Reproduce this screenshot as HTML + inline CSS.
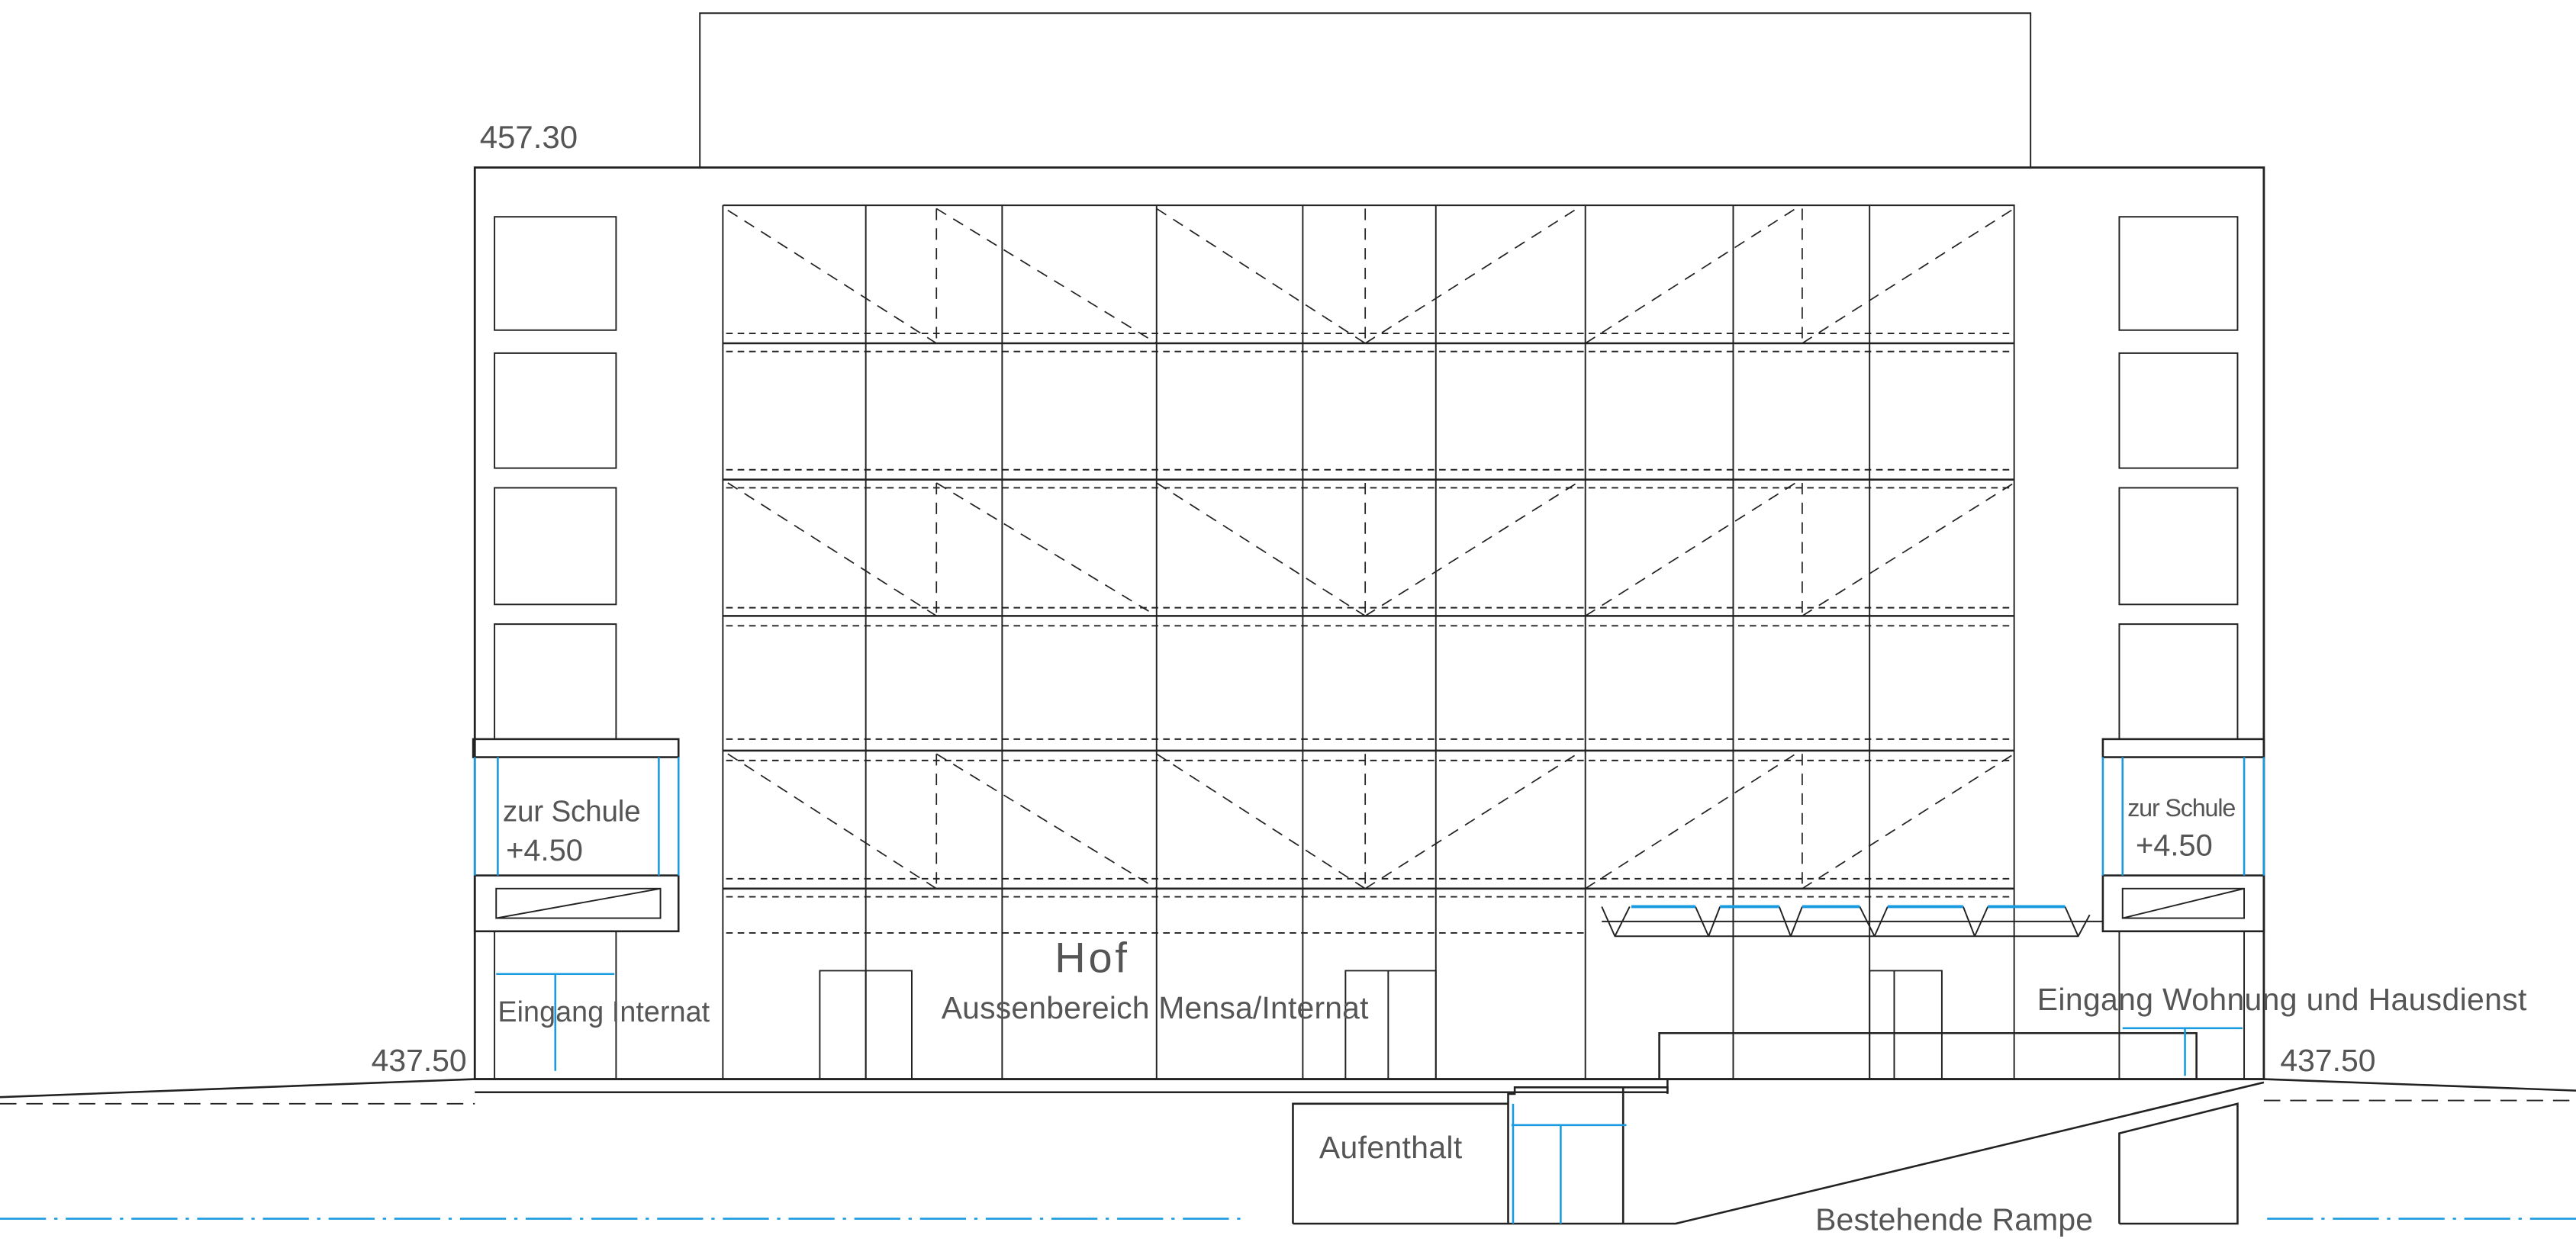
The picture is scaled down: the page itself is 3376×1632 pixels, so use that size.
<!DOCTYPE html>
<html><head><meta charset="utf-8"><style>
html,body{margin:0;padding:0;background:#fff;}
svg{display:block;}
text{font-family:"Liberation Sans",sans-serif;fill:#555;}
</style></head><body>
<svg width="3376" height="1632" viewBox="0 0 1568 758" xmlns="http://www.w3.org/2000/svg">
<rect width="1568" height="758" fill="#fff"/>
<g stroke="#222" fill="none" stroke-width="0.9">
<path d="M426 102 V8 H1236 V102"/>
<rect x="289" y="102" width="1089" height="555" stroke-width="1.3"/>
<rect x="301" y="132" width="74" height="69"/>
<rect x="301" y="215" width="74" height="70"/>
<rect x="301" y="297" width="74" height="71"/>
<path d="M301 450 V380 H375 V450"/>
<rect x="1290" y="132" width="72" height="69"/>
<rect x="1290" y="215" width="72" height="70"/>
<rect x="1290" y="297" width="72" height="71"/>
<path d="M1290 450 V380 H1362 V450"/>
<rect x="288" y="450" width="125" height="11" stroke-width="1.2"/>
<rect x="289" y="533" width="124" height="34" stroke-width="1.2"/>
<rect x="302" y="541" width="100" height="18"/>
<path d="M302 559 L402 541"/>
<path d="M301 567 V657 M375 567 V657"/>
<rect x="1280" y="450" width="98" height="11" stroke-width="1.2"/>
<rect x="1280" y="533" width="98" height="34" stroke-width="1.2"/>
<rect x="1292" y="541" width="74" height="18"/>
<path d="M1292 559 L1366 541"/>
<path d="M1290 567 V657 M1366 567 V657"/>
<path d="M440 125 H1226 V657 M440 125 V657"/>
<path d="M527 125V657 M610 125V657 M704 125V657 M793 125V657 M874 125V657 M965 125V657 M1055 125V657 M1138 125V657"/>
<path d="M440 209H1226 M440 292H1226 M440 375H1226 M440 457H1226 M440 541H1226" stroke-width="1.2"/>
</g>
<g stroke="#222" fill="none" stroke-width="0.9" stroke-dasharray="4 3">
<path d="M442 203H1226 M442 214H1226 M442 286H1226 M442 297H1226 M442 370H1226 M442 381H1226 M442 450H1226 M442 463H1226 M442 535H1226 M442 546H1226 M442 568H965"/>
</g>
<g stroke="#222" fill="none" stroke-width="0.8" stroke-dasharray="7 5">
<path d="M570 127V209 M831 127V209 M1097 127V209 M570 294V375 M831 294V375 M1097 294V375 M570 459V541 M831 459V541 M1097 459V541"/>
<path d="M443 128L570 209 M570 127L704 209 M704 127L831 209 M831 209L960 127 M965 209L1093 127 M1097 209L1226 127"/>
<path d="M443 294L570 375 M570 294L704 375 M704 294L831 375 M831 375L960 294 M965 375L1093 294 M1097 375L1226 294"/>
<path d="M443 459L570 541 M570 459L704 541 M704 459L831 541 M831 541L960 459 M965 541L1093 459 M1097 541L1226 459"/>
</g>
<g stroke="#222" fill="none" stroke-width="0.9">
<path d="M499 657V591H555V657 M527 591V657"/>
<path d="M819 657V591H874V657 M845 591V657"/>
<path d="M1138 657V591H1182V657 M1153 591V657"/>
<path d="M975 561H1280"/>
<path d="M975 552L983 570H1265L1272 557 M983 570L992 552 M1040 570L1032 552 M1040 570L1047 552 M1090 570L1083 552 M1090 570L1097 552 M1141 570L1132 552 M1141 570L1149 552 M1202 570L1195 552 M1202 570L1210 552 M1265 570L1257 552"/>
<path d="M1010 657V629H1337V657" stroke-width="1.2"/>
<path d="M0 668L289 657 M289 657H1378L1568 664" stroke-width="1.2"/>
<path d="M289 665H1015V657" stroke-width="1.2"/>
<path d="M0 672H289 M1378 670H1568" stroke-dasharray="10 6"/>
<path d="M787 745V672H918 V745 M918 672V666H922V662H1015V666 M988 662V745 M787 745H1020L1378 659" stroke-width="1.2"/>
<path d="M1290 745V690L1362 672V745H1290" stroke-width="1.2"/>
</g>
<g stroke="#1a9be0" fill="none" stroke-width="1.2">
<path d="M289 461V533 M303 461V533 M401 461V533 M413 461V533"/>
<path d="M302 593H374 M338 593V652"/>
<path d="M1280 461V533 M1292 461V533 M1366 461V533 M1378 461V533"/>
<path d="M1292 626H1365 M1330 626V655"/>
<path d="M993 552H1032 M1047 552H1083 M1097 552H1132 M1149 552H1195 M1210 552H1257" stroke-width="1.8"/>
<path d="M921 672V745 M950 685V745 M920 685H990"/>
<path d="M0 742H760 M1380 742H1568" stroke-dasharray="28 5 2 5"/>
</g>
<text x="292" y="90" font-size="19.5">457.30</text>
<text x="306" y="500" font-size="18" textLength="84">zur Schule</text>
<text x="308" y="524" font-size="18.5">+4.50</text>
<text x="1295" y="497" font-size="15" textLength="66">zur Schule</text>
<text x="1300" y="521" font-size="18.5">+4.50</text>
<text x="642" y="592" font-size="26" textLength="44">Hof</text>
<text x="573" y="620" font-size="19" textLength="260">Aussenbereich Mensa/Internat</text>
<text x="303" y="622" font-size="17.5" textLength="129">Eingang Internat</text>
<text x="1240" y="615" font-size="19" textLength="298">Eingang Wohnung und Hausdienst</text>
<text x="226" y="652" font-size="19">437.50</text>
<text x="1388" y="652" font-size="19">437.50</text>
<text x="803" y="705" font-size="19" textLength="87">Aufenthalt</text>
<text x="1105" y="749" font-size="19" textLength="169">Bestehende Rampe</text>
</svg>
</body></html>
